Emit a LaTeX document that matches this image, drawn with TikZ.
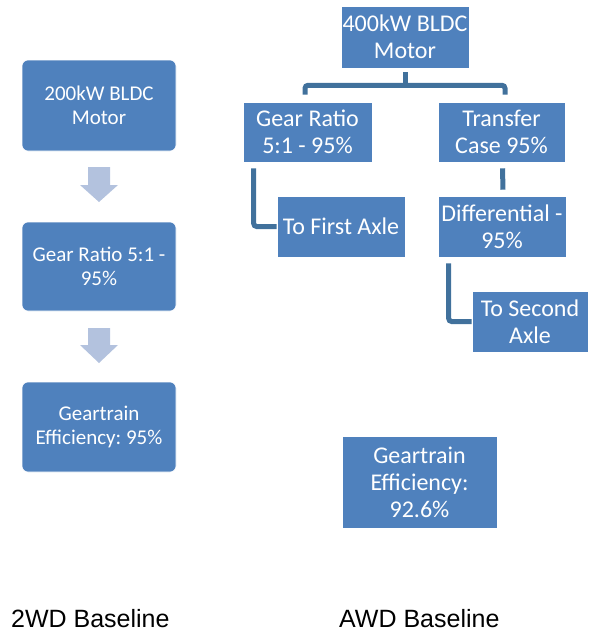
\documentclass[tikz,border=0pt]{standalone}
\usepackage{fontspec}
\setmainfont{Carlito}
\newfontfamily\arialf{Liberation Sans}
\frenchspacing
\definecolor{boxblue}{HTML}{4F81BD}
\definecolor{connblue}{HTML}{41719C}
\definecolor{arrblue}{HTML}{B3C2DE}
\begin{document}
\begin{tikzpicture}[x=1pt,y=-1pt,
  lbox/.style={rectangle, rounded corners=6pt, fill=boxblue, draw=white, line width=0.6pt,
    text=white, align=center, inner sep=0pt, font=\fontsize{21}{23.5}\selectfont},
  rbox/.style={rectangle, fill=boxblue, draw=white, line width=0.6pt,
    text=white, align=center, inner sep=0pt, font=\fontsize{24}{27}\selectfont},
  conn/.style={draw=connblue, line width=5pt, rounded corners=3pt},
  blockarrow/.style={fill=arrblue},
  caption/.style={anchor=base west, inner sep=0pt, font=\arialf\fontsize{25}{29}\selectfont}]
\useasboundingbox (0,0) rectangle (589,633);
% left column
\node[lbox, minimum width=154pt, minimum height=91pt] (m2) at (99,105.5) {200kW BLDC\\Motor};
\node[lbox, minimum width=154pt, minimum height=89pt] (g2) at (99,266.5) {Gear Ratio 5:1 -\\95\%};
\node[lbox, minimum width=154pt, minimum height=90pt] (e2) at (99,427) {Geartrain\\Efficiency: 95\%};
\fill[blockarrow] (88,167) -- (110,167) -- (110,185) -- (118,185) -- (99,202) -- (80,185) -- (88,185) -- cycle;
\fill[blockarrow] (88,328) -- (110,328) -- (110,345) -- (118,345) -- (99,363) -- (80,345) -- (88,345) -- cycle;
% right tree
\node[rbox, minimum width=128pt, minimum height=62pt] (top) at (405,37) {400kW BLDC\\Motor};
\node[rbox, minimum width=129pt, minimum height=60pt] (gear) at (307.5,132) {Gear Ratio\\5:1 - 95\%};
\node[rbox, minimum width=127pt, minimum height=60pt] (trans) at (501.5,132) {Transfer\\Case 95\%};
\node[rbox, minimum width=128pt, minimum height=61pt] (first) at (341,226.5) {To First Axle};
\node[rbox, minimum width=128pt, minimum height=61pt] (diff) at (502,226.5) {Differential -\\95\%};
\node[rbox, minimum width=116pt, minimum height=61pt] (second) at (530,321.5) {To Second\\Axle};
\node[rbox, minimum width=155pt, minimum height=92pt] (eff) at (419.5,482) {Geartrain\\Efficiency:\\92.6\%};
% connectors
\draw[conn] ([yshift=-4pt]top.south) -- ([yshift=-17pt]top.south);
\draw[conn] ([xshift=-2.5pt,yshift=7pt]gear.north) |- ([yshift=-17pt]top.south) -| ([xshift=3.5pt,yshift=7pt]trans.north);
\draw[conn] ([xshift=11pt,yshift=-6pt]gear.south west) |- (first.west);
\draw[conn] ([xshift=1pt,yshift=-6pt]trans.south) -- ([xshift=1pt,yshift=6pt]diff.north);
\draw[conn] ([xshift=11pt,yshift=-6pt]diff.south west) |- (second.west);
% captions
\node[caption] (c2) at (11,627) {2WD Baseline};
\node[caption] (c4) at (339,627) {AWD Baseline};
\end{tikzpicture}
\end{document}
